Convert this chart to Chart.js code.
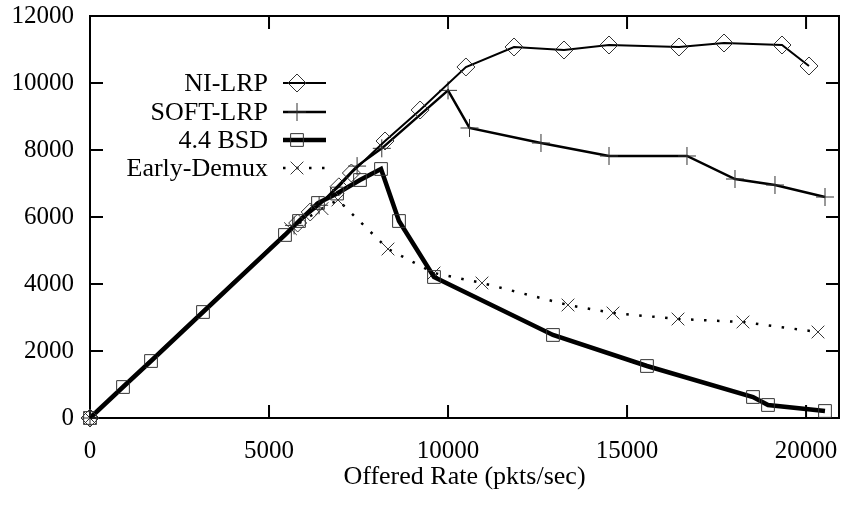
<!DOCTYPE html>
<html><head><meta charset="utf-8">
<script src="https://cdn.jsdelivr.net/npm/chart.js@4/dist/chart.umd.min.js"></script>
<style>html,body{margin:0;padding:0;background:#fff}</style>
</head><body>
<canvas id="c" width="841" height="519"></canvas>
<script>
const xTicks = [0, 5000, 10000, 15000, 20000];
const yTicks = [0, 2000, 4000, 6000, 8000, 10000, 12000];
const xLabel = 'Offered Rate (pkts/sec)';

const niLabel = 'NI-LRP';
const niX = [0, 5800, 6150, 6950, 7300, 8240, 9220, 10500, 11843, 13239, 14496, 16451, 17708, 19328, 20082];
const niY = [0, 5820, 6150, 6900, 7313, 8269, 9194, 10478, 11075, 10985, 11134, 11075, 11194, 11134, 10507];

const softLabel = 'SOFT-LRP';
const softX = [0, 5700, 6400, 7460, 8150, 10000, 10600, 12596, 14496, 16674, 18015, 19132, 20529];
const softY = [0, 5750, 6350, 7520, 8050, 9780, 8657, 8209, 7821, 7821, 7134, 6955, 6597];

const bsdLabel = '4.4 BSD';
const bsdX = [0, 922, 1704, 3156, 5446, 5837, 6368, 6900, 7541, 8128, 8630, 9608, 12931, 15557, 18518, 18937, 20529];
const bsdY = [0, 925, 1701, 3164, 5463, 5880, 6418, 6700, 7104, 7433, 5880, 4209, 2478, 1552, 627, 388, 209];

const edLabel = 'Early-Demux';
const edX = [0, 5600, 6480, 6925, 8323, 9608, 10948, 13350, 14607, 16423, 18238, 20333];
const edY = [0, 5650, 6250, 6508, 5045, 4328, 4030, 3373, 3134, 2955, 2866, 2567];

const FONT = 'Liberation Serif';
const pts = (xs, ys) => xs.map((v, i) => ({x: v, y: ys[i]}));
const mk = '#333';

const datasets = [
  {label: niLabel, data: pts(niX, niY), borderColor: '#000', borderWidth: 2,
   pointStyle: 'rectRot', pointRadius: 9, pointBorderColor: mk, pointBorderWidth: 1,
   pointBackgroundColor: 'rgba(0,0,0,0)'},
  {label: softLabel, data: pts(softX, softY), borderColor: '#000', borderWidth: 2.5,
   pointStyle: 'cross', pointRadius: 9, pointBorderColor: mk, pointBorderWidth: 1,
   pointBackgroundColor: 'rgba(0,0,0,0)'},
  {label: bsdLabel, data: pts(bsdX, bsdY), borderColor: '#000', borderWidth: 4.5,
   pointStyle: 'rect', pointRadius: 9, pointBorderColor: mk, pointBorderWidth: 1,
   pointBackgroundColor: 'rgba(0,0,0,0)'},
  {label: edLabel, data: pts(edX, edY), borderColor: '#000', borderWidth: 2.5, borderDash: [2.5, 10.5],
   pointStyle: 'crossRot', pointRadius: 9, pointBorderColor: mk, pointBorderWidth: 1,
   pointBackgroundColor: 'rgba(0,0,0,0)'}
];
datasets.forEach(d => { d.fill = false; d.tension = 0; d.clip = false; d.pointHoverRadius = d.pointRadius; });

const frame = {
  id: 'frame',
  beforeDatasetsDraw(chart) {
    const {ctx, chartArea: a, scales: {x, y}} = chart;
    ctx.save();
    ctx.strokeStyle = '#000'; ctx.lineWidth = 2;
    ctx.strokeRect(a.left, a.top, a.right - a.left, a.bottom - a.top);
    ctx.beginPath();
    xTicks.forEach(v => { const p = x.getPixelForValue(v);
      ctx.moveTo(p, a.bottom); ctx.lineTo(p, a.bottom - 13);
      ctx.moveTo(p, a.top); ctx.lineTo(p, a.top + 13); });
    yTicks.forEach(v => { const p = y.getPixelForValue(v);
      ctx.moveTo(a.left, p); ctx.lineTo(a.left + 13, p);
      ctx.moveTo(a.right, p); ctx.lineTo(a.right - 13, p); });
    ctx.stroke();
    ctx.restore();
  },
  afterDatasetsDraw(chart) {
    const {ctx} = chart;
    const rows = [83, 112, 140, 168];
    ctx.save();
    chart.data.datasets.forEach((d, i) => {
      const yy = rows[i];
      ctx.fillStyle = '#000';
      ctx.font = '26px "' + FONT + '"';
      ctx.textAlign = 'right'; ctx.textBaseline = 'middle';
      ctx.fillText(d.label, 268, yy + 1);
      ctx.strokeStyle = '#000'; ctx.lineWidth = d.borderWidth;
      ctx.setLineDash(d.borderDash || []);
      ctx.beginPath(); ctx.moveTo(283, yy); ctx.lineTo(326, yy); ctx.stroke();
      ctx.setLineDash([]);
      ctx.strokeStyle = d.pointBorderColor; ctx.lineWidth = d.pointBorderWidth;
      ctx.fillStyle = 'rgba(0,0,0,0)';
      Chart.helpers.drawPoint(ctx, {pointStyle: d.pointStyle, radius: d.pointRadius, rotation: 0, borderWidth: 1}, 297, yy);
    });
    ctx.restore();
  }
};

new Chart(document.getElementById('c'), {
  type: 'line',
  data: {datasets},
  options: {
    responsive: false, animation: false,
    layout: {autoPadding: false, padding: {top: 16, right: 2, left: 0, bottom: 0}},
    plugins: {legend: {display: false}, tooltip: {enabled: false}},
    scales: {
      x: {type: 'linear', min: 0, max: 20920,
        afterBuildTicks(s) { s.ticks = xTicks.map(v => ({value: v})); },
        afterFit(s) { s.height = 101; s.paddingLeft = 0; s.paddingRight = 0; },
        grid: {display: false, drawTicks: false}, border: {display: false},
        ticks: {padding: 18, color: '#000', font: {family: FONT, size: 25}, maxRotation: 0, autoSkip: false,
          callback: v => String(v)},
        title: {display: true, text: xLabel, color: '#000', font: {family: FONT, size: 26}, padding: {top: 0, bottom: 26}}
      },
      y: {type: 'linear', min: 0, max: 12000,
        afterBuildTicks(s) { s.ticks = yTicks.map(v => ({value: v})); },
        afterFit(s) { s.width = 90; s.paddingTop = 0; s.paddingBottom = 0; },
        grid: {display: false, drawTicks: false}, border: {display: false},
        ticks: {padding: 16, color: '#000', font: {family: FONT, size: 25}, autoSkip: false,
          callback: v => String(v)}
      }
    }
  },
  plugins: [frame]
});
</script>
</body></html>
